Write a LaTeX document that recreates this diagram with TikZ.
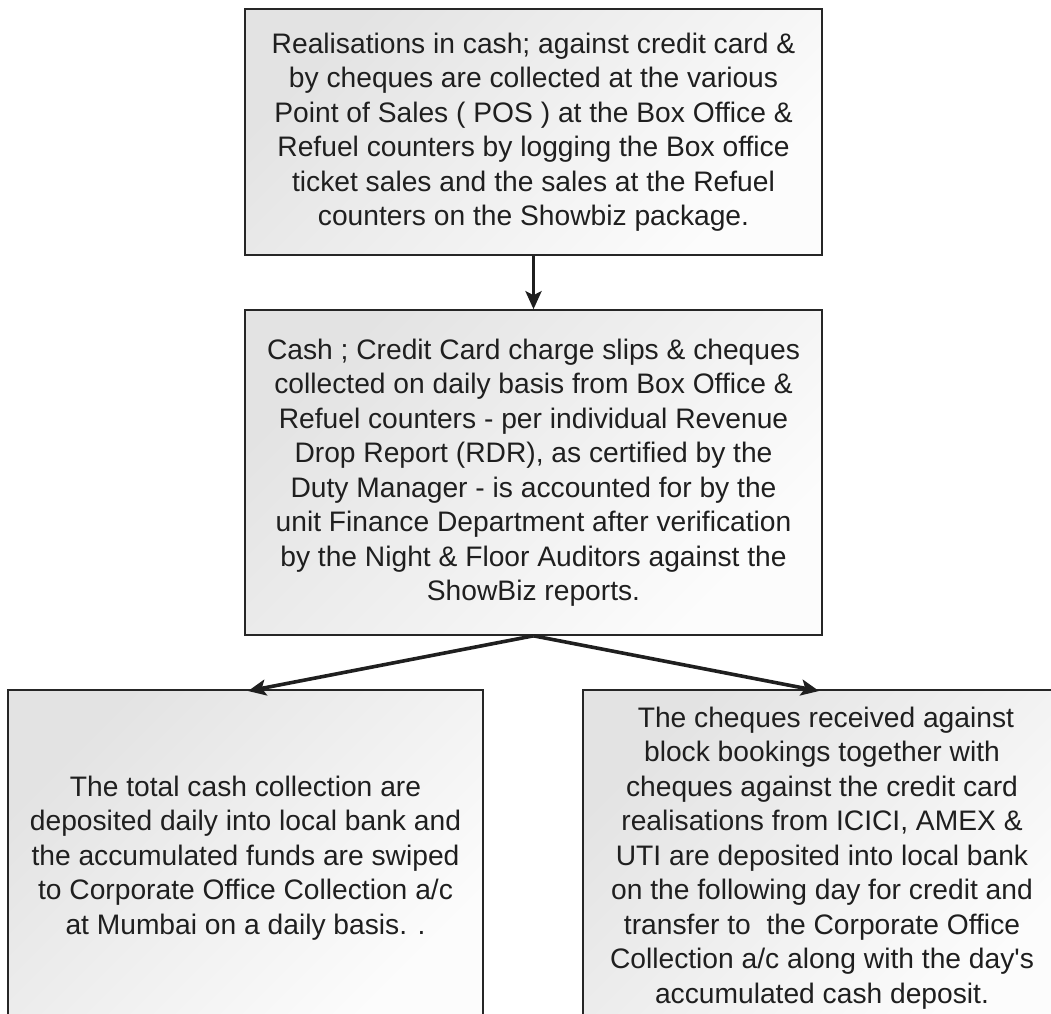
\documentclass[tikz,border=0pt]{standalone}
\usepackage{fontspec}
\setmainfont{Liberation Sans}
\usetikzlibrary{arrows.meta}

\tikzset{
  box/.style={draw=black!85, line width=1.6pt, top color=black!11, bottom color=black!1,
    shading angle=45, align=center, inner sep=0pt,
    font=\fontsize{28.2}{34.5}\selectfont, text=black!88},
  flow/.style={line width=3.6pt, draw=black!88, -{Stealth[length=18pt,width=16pt,inset=4pt]}}
}

\begin{document}
\begin{tikzpicture}[x=1pt,y=-1pt]
\useasboundingbox (0,0) rectangle (1051,1013);
\clip (0,0) rectangle (1051,1013);

\node[box, minimum width=577, minimum height=246] (pos) at (533.5,132)
  {Realisations in cash; against credit card \&\\
   by cheques are collected at the various\\
   Point of Sales ( POS ) at the Box Office \&\\
   Refuel counters by logging the Box office\\
   ticket sales and the sales at the Refuel\\
   counters on the Showbiz package.};

\node[box, minimum width=577, minimum height=325] (rdr) at (533.5,472.5)
  {Cash ; Credit Card charge slips \& cheques\\
   collected on daily basis from Box Office \&\\
   Refuel counters - per individual Revenue\\
   Drop Report (RDR), as certified by the\\
   Duty Manager - is accounted for by the\\
   unit Finance Department after verification\\
   by the Night \& Floor Auditors against the\\
   ShowBiz reports.};

\node[box, minimum width=475, minimum height=336] (cash) at (245.5,858)
  {The total cash collection are\\
   deposited daily into local bank and\\
   the accumulated funds are swiped\\
   to Corporate Office Collection a/c\\
   at Mumbai on a daily basis. .};

\node[box, minimum width=478, minimum height=336] (cheque) at (822,858)
  {\ The cheques received against\\
   block bookings together with\\
   cheques against the credit card\\
   realisations from ICICI, AMEX \&\\
   UTI are deposited into local bank\\
   on the following day for credit and\\
   transfer to \ the Corporate Office\\
   Collection a/c along with the day\textquotesingle s\\
   accumulated cash deposit.};

\coordinate (split) at (rdr.south);
\coordinate (cashin) at (248,691);
\coordinate (chequein) at (819,691);

\draw[flow] (pos.south) -- (rdr.north);
\draw[flow] (split) -- (cashin);
\draw[flow] (split) -- (chequein);

\end{tikzpicture}
\end{document}
